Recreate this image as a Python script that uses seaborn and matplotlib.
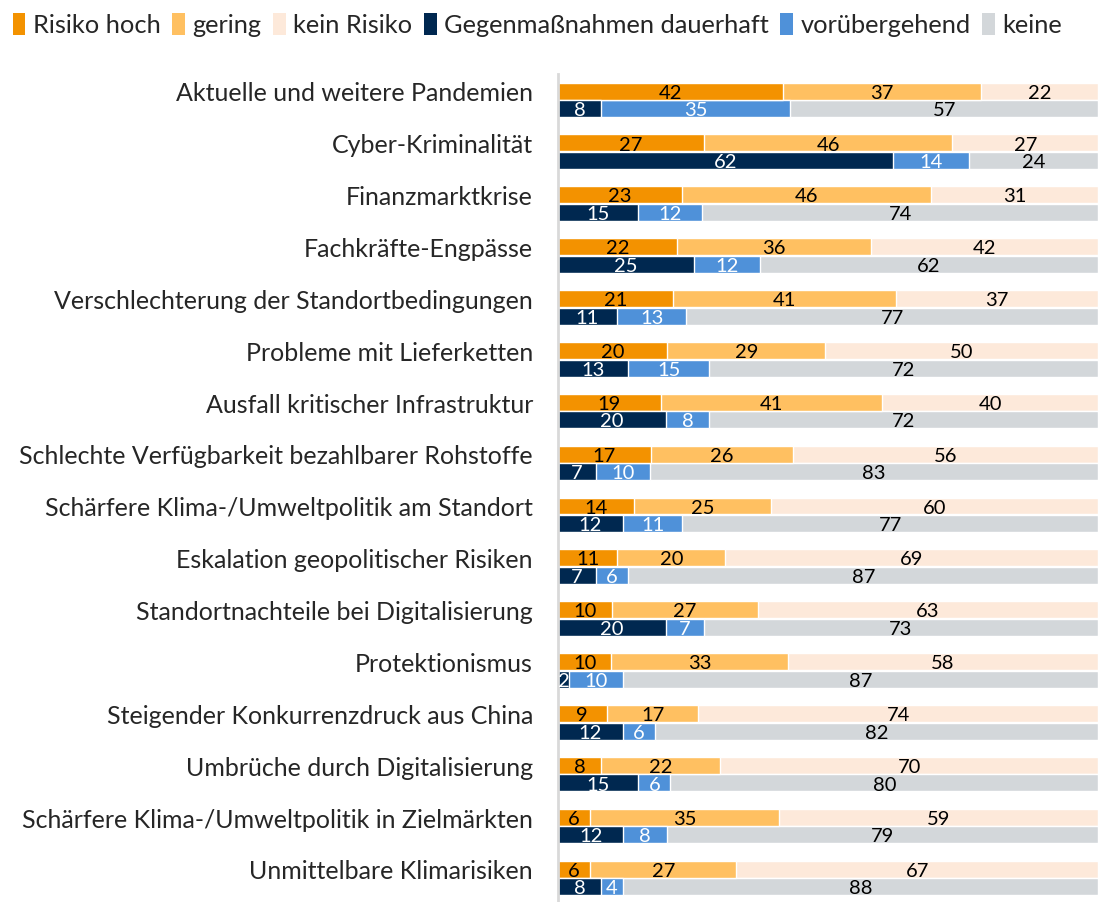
import pandas as pd
import numpy as np
import matplotlib
matplotlib.use("Agg")
import matplotlib.pyplot as plt
import matplotlib.transforms as mtransforms
import seaborn as sns
from matplotlib.patches import Patch

# ---------- data ----------
categories = [
    "Aktuelle und weitere Pandemien",
    "Cyber-Kriminalität",
    "Finanzmarktkrise",
    "Fachkräfte-Engpässe",
    "Verschlechterung der Standortbedingungen",
    "Probleme mit Lieferketten",
    "Ausfall kritischer Infrastruktur",
    "Schlechte Verfügbarkeit bezahlbarer Rohstoffe",
    "Schärfere Klima-/Umweltpolitik am Standort",
    "Eskalation geopolitischer Risiken",
    "Standortnachteile bei Digitalisierung",
    "Protektionismus",
    "Steigender Konkurrenzdruck aus China",
    "Umbrüche durch Digitalisierung",
    "Schärfere Klima-/Umweltpolitik in Zielmärkten",
    "Unmittelbare Klimarisiken",
]
risiko_hoch = [42, 27, 23, 22, 21, 20, 19, 17, 14, 11, 10, 10, 9, 8, 6, 6]
risiko_gering = [37, 46, 46, 36, 41, 29, 41, 26, 25, 20, 27, 33, 17, 22, 35, 27]
risiko_kein = [22, 27, 31, 42, 37, 50, 40, 56, 60, 69, 63, 58, 74, 70, 59, 67]
gegen_dauerhaft = [8, 62, 15, 25, 11, 13, 20, 7, 12, 7, 20, 2, 12, 15, 12, 8]
gegen_vorueber = [35, 14, 12, 12, 13, 15, 8, 10, 11, 6, 7, 10, 6, 6, 8, 4]
gegen_keine = [57, 24, 74, 62, 77, 72, 72, 83, 77, 87, 73, 87, 82, 80, 79, 88]

legend_labels = ["Risiko hoch", "gering", "kein Risiko",
                 "Gegenmaßnahmen dauerhaft", "vorübergehend", "keine"]
colors = ["#F39200", "#FFC061", "#FDE9DA", "#002850", "#4F91D9", "#D3D7DA"]
text_colors = ["black", "black", "black", "white", "white", "black"]

# ---------- build long table (each row scaled to 100 %) ----------
rows = ["Risiko", "Gegen"]
levels = [
    (risiko_hoch, gegen_dauerhaft),
    (risiko_gering, gegen_vorueber),
    (risiko_kein, gegen_keine),
]
recs = []
for i, cat in enumerate(categories):
    for r, row in enumerate(rows):
        total = sum(pair[r][i] for pair in levels)
        cum = 0.0
        for lvl, pair in enumerate(levels):
            v = pair[r][i]
            share = v / total * 100
            cum += share
            recs.append({"cat": cat, "row": row, "level": lvl,
                         "value": v, "cum": cum, "mid": cum - share / 2})
df = pd.DataFrame(recs)

sns.set_theme(style="white")
plt.rcParams["font.family"] = ["Lato", "DejaVu Sans"]

fig = plt.figure(figsize=(11.06, 9.02), dpi=100)
ax = fig.add_axes([0.5045, -0.002, 0.4885, 0.920])

# draw cumulative bars from back to front
for lvl in [2, 1, 0]:
    sub = df[df["level"] == lvl]
    pal = {"Risiko": colors[lvl], "Gegen": colors[lvl + 3]}
    sns.barplot(data=sub, y="cat", x="cum", hue="row", hue_order=rows,
                order=categories, palette=pal, orient="h", width=0.68,
                gap=0.04, saturation=1, legend=False, ax=ax, errorbar=None)

# value labels
pos = {c: i for i, c in enumerate(categories)}
for _, rec in df.iterrows():
    r = rows.index(rec["row"])
    y = pos[rec["cat"]] + (-0.17 if r == 0 else 0.17) + 0.04
    ci = rec["level"] + 3 * r
    ax.text(rec["mid"], y, f"{rec['value']}", ha="center", va="center",
            fontsize=14.5, color=text_colors[ci])

ax.set_xlim(0, 100)
ax.set_ylim(len(categories) - 0.5, -0.5)
ax.set_xlabel("")
ax.set_ylabel("")
ax.set_xticks([])
ax.tick_params(axis="y", length=0, pad=18, labelsize=18)
shift = mtransforms.ScaledTranslation(0, 8 / 100, fig.dpi_scale_trans)
for lab in ax.get_yticklabels():
    lab.set_transform(lab.get_transform() + shift)
for s in ["top", "right", "bottom"]:
    ax.spines[s].set_visible(False)
ax.spines["left"].set_color("#D9D9D9")
ax.spines["left"].set_linewidth(2)

handles = [Patch(facecolor=c, edgecolor="none") for c in colors]
fig.legend(handles, legend_labels, loc="upper left", bbox_to_anchor=(0.0, 1.0),
           ncol=6, frameon=False, fontsize=18.3, handlelength=0.5,
           handleheight=1.0, handletextpad=0.3, columnspacing=0.45,
           borderaxespad=0.2, borderpad=0.3)

fig.savefig("out.png", dpi=100)
